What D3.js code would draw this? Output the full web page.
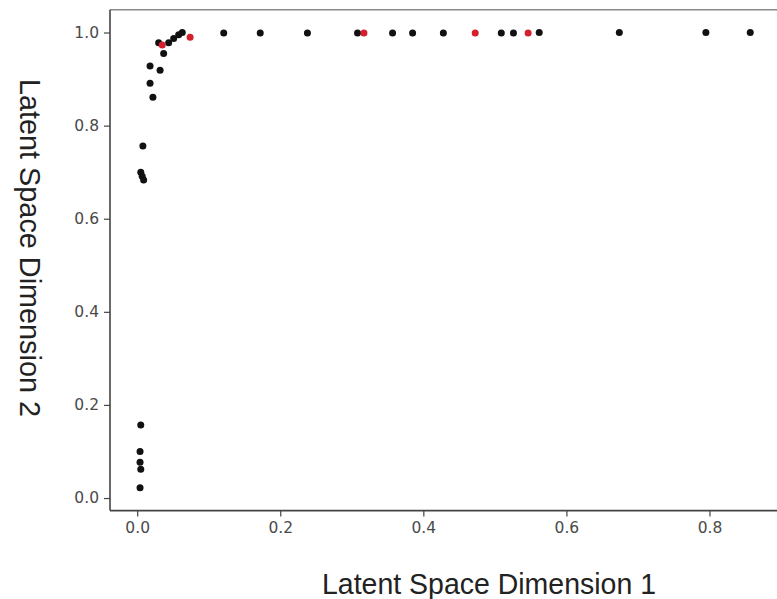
<!DOCTYPE html>
<html>
<head>
<meta charset="utf-8">
<script src="https://cdn.jsdelivr.net/npm/d3@7"></script>
<style>
  html, body { margin: 0; padding: 0; background: #fff; }
  svg { display: block; }
</style>
</head>
<body>
<svg id="chart" width="777" height="599"></svg>
<script>
// Black points
const blackX = [0.004, 0.005, 0.004, 0.004, 0.005,
  0.005, 0.007, 0.009, 0.008,
  0.022, 0.018, 0.032, 0.018,
  0.037, 0.030, 0.044, 0.051, 0.058, 0.063,
  0.121, 0.172, 0.238, 0.308, 0.357, 0.385, 0.428, 0.509, 0.526, 0.562, 0.674, 0.795, 0.857];
const blackY = [0.022, 0.062, 0.077, 0.100, 0.157,
  0.700, 0.691, 0.683, 0.756,
  0.861, 0.891, 0.919, 0.928,
  0.955, 0.978, 0.978, 0.987, 0.995, 1.000,
  0.999, 0.999, 0.999, 0.999, 0.999, 0.999, 0.999, 0.999, 0.999, 1.000, 1.000, 1.000, 1.000];
// Red points
const redX = [0.035, 0.074, 0.317, 0.4725, 0.5465];
const redY = [0.973, 0.990, 0.999, 0.999, 0.999];

const xTicks = [0.0, 0.2, 0.4, 0.6, 0.8];
const yTicks = [0.0, 0.2, 0.4, 0.6, 0.8, 1.0];
const xLabel = "Latent Space Dimension 1";
const yLabel = "Latent Space Dimension 2";

const svg = d3.select("#chart");
const pL = 110, pR = 781, pT = 9.7, pB = 510.6;
const x = d3.scaleLinear().domain([-0.038, 0.90]).range([pL, pR]);
const y = d3.scaleLinear().domain([-0.027, 1.049]).range([pB, pT]);

// frame
svg.append("line").attr("x1", pL).attr("x2", pR).attr("y1", pT).attr("y2", pT)
  .attr("stroke", "#888").attr("stroke-width", 1.5);
svg.append("line").attr("x1", pR).attr("x2", pR).attr("y1", pT).attr("y2", pB)
  .attr("stroke", "#888").attr("stroke-width", 1.5);

const fmt = d3.format(".1f");
const xAxis = svg.append("g").attr("transform", `translate(0,${pB})`)
  .call(d3.axisBottom(x).tickValues(xTicks).tickFormat(fmt).tickSizeOuter(0).tickSize(6).tickPadding(5));
const yAxis = svg.append("g").attr("transform", `translate(${pL},0)`)
  .call(d3.axisLeft(y).tickValues(yTicks).tickFormat(fmt).tickSizeOuter(0).tickSize(6).tickPadding(5));

[xAxis, yAxis].forEach(g => {
  g.select(".domain").attr("stroke", "#444").attr("stroke-width", 1.6);
  g.selectAll(".tick line").attr("stroke", "#444").attr("stroke-width", 1.2);
  g.selectAll(".tick text").attr("fill", "#4a4a4a")
    .style("font-family", "DejaVu Sans, sans-serif").style("font-size", "15.5px");
});
xAxis.select(".domain").attr("d", `M${pL},0H${pR}`);
yAxis.select(".domain").attr("d", `M0,${pB}V${pT}`);

// points
svg.append("g").selectAll("circle").data(blackX.map((v, i) => [v, blackY[i]]))
  .join("circle").attr("cx", d => x(d[0])).attr("cy", d => y(d[1])).attr("r", 3.5).attr("fill", "#111");
svg.append("g").selectAll("circle").data(redX.map((v, i) => [v, redY[i]]))
  .join("circle").attr("cx", d => x(d[0])).attr("cy", d => y(d[1])).attr("r", 3.5).attr("fill", "#d4202c");

// labels
svg.append("text").attr("x", 489).attr("y", 594).attr("text-anchor", "middle")
  .attr("textLength", 334).attr("lengthAdjust", "spacingAndGlyphs")
  .style("font-family", "Liberation Sans, Arial, sans-serif").style("font-size", "29px").attr("fill", "#222")
  .text(xLabel);
svg.append("text").attr("transform", "translate(20,248) rotate(90)").attr("text-anchor", "middle")
  .attr("textLength", 338).attr("lengthAdjust", "spacingAndGlyphs")
  .style("font-family", "Liberation Sans, Arial, sans-serif").style("font-size", "29px").attr("fill", "#222")
  .text(yLabel);
</script>
</body>
</html>
